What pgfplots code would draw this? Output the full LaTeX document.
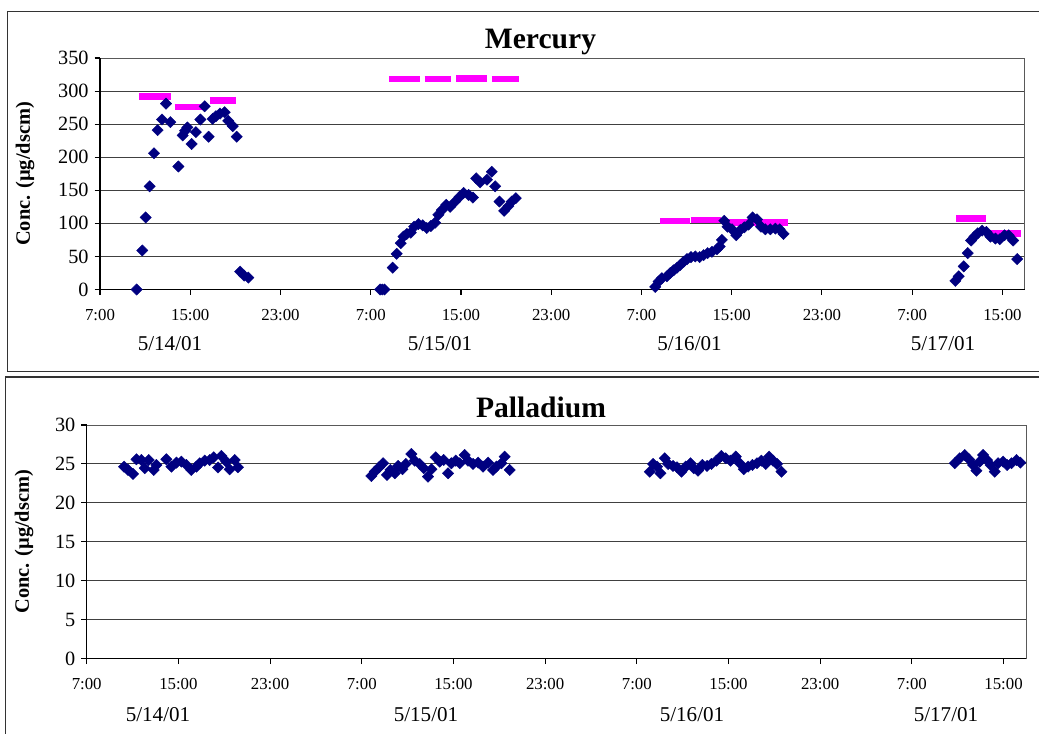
\documentclass[border=0pt]{standalone}
\usepackage{pgfplots}
\pgfplotsset{compat=1.18}
\usepackage{fontspec}
\setmainfont{Liberation Serif}

\definecolor{hgnavy}{HTML}{000080}
\definecolor{limitpink}{HTML}{FF00FF}

% 1 px of the layout grid = 0.75pt
\pgfplotsset{
  excelstyle/.style={
    scale only axis,
    xmin=7, xmax=89,
    axis line style={draw=black!65, line width=0.75pt},
    ymajorgrids, grid style={black!75, line width=0.7pt},
    xtick={7,15,...,87},
    xticklabels={7:00,15:00,23:00,7:00,15:00,23:00,7:00,15:00,23:00,7:00,15:00},
    tick pos=left, tick align=outside,
    major tick length=4pt,
    tick style={black, line width=0.8pt},
    xticklabel style={font=\fontsize{12.6}{14}\selectfont, yshift=-7.5pt},
    yticklabel style={font=\fontsize{15.2}{17}\selectfont, xshift=-1pt},
    /pgf/number format/assume math mode=true,
    clip=false,
  },
  hgmark/.style={only marks, mark=square*, mark size=3.0pt,
    mark options={rotate=45, fill=hgnavy, draw=hgnavy, line width=0.3pt}},
  limitbar/.style={limitpink, line width=4.8pt, no marks, forget plot},
}

\begin{document}
\begin{tikzpicture}
\useasboundingbox (0,0) rectangle (1039*0.75pt,-734*0.75pt);

% chart frames
\draw[black!80, line width=1pt] (1045*0.75pt,-11.5*0.75pt) -- (7.5*0.75pt,-11.5*0.75pt)
  -- (7.5*0.75pt,-371.5*0.75pt) -- (1045*0.75pt,-371.5*0.75pt);
\draw[black!80, line width=1pt] (1045*0.75pt,-377*0.75pt) -- (5.5*0.75pt,-377*0.75pt)
  -- (5.5*0.75pt,-745*0.75pt);

% ---------------- Mercury ----------------
\begin{axis}[excelstyle,
  at={(100*0.75pt,-289.5*0.75pt)}, anchor=south west,
  width=925*0.75pt, height=231.5*0.75pt,
  ymin=0, ymax=350, ytick={0,50,...,350},
]
\addplot[hgmark] coordinates {
 (10.25,0) (10.75,59) (11.05,109) (11.40,156) (11.79,206) (12.11,241)
 (12.50,257) (12.85,281) (13.24,253) (13.95,186) (14.33,233) (14.55,240)
 (14.74,245) (15.12,220) (15.50,238) (15.90,257) (16.28,277) (16.63,231)
 (16.99,258) (17.28,262) (17.64,266) (18.05,268) (18.37,255) (18.77,247)
 (19.12,231) (19.42,27) (19.77,21) (20.15,18)
};
\addplot[hgmark] coordinates {
 (31.83,0) (32.02,0) (32.22,0) (32.95,33) (33.30,54) (33.66,70) (33.90,80)
 (34.20,84) (34.55,86) (34.85,95) (35.23,99) (35.61,97) (35.97,93) (36.33,96)
 (36.71,101) (37.00,113) (37.30,120) (37.69,128) (38.04,125) (38.49,133)
 (38.87,140) (39.23,146) (39.67,143) (40.06,139) (40.35,168) (40.70,162)
 (41.30,166) (41.73,178) (42.03,156) (42.41,133) (42.83,119) (43.20,126)
 (43.50,133) (43.86,138)
};
\addplot[hgmark] coordinates {
 (56.22,4) (56.52,12) (56.81,17) (57.26,20) (57.55,25) (57.85,29) (58.16,33)
 (58.44,37) (58.74,42) (59.04,46) (59.39,49) (59.77,50) (60.16,49) (60.51,52)
 (60.87,55) (61.25,57) (61.70,61) (61.93,65) (62.13,75) (62.34,104) (62.63,95)
 (63.02,91) (63.40,82) (63.76,90) (64.12,94) (64.50,98) (64.85,109) (65.24,106)
 (65.60,95) (65.98,91) (66.42,91) (66.87,92) (67.25,91) (67.60,84)
};
\addplot[hgmark] coordinates {
 (82.83,13) (83.12,20) (83.57,35) (83.92,55) (84.22,74) (84.52,80) (84.81,85)
 (85.20,89) (85.58,87) (85.94,80) (86.38,77) (86.76,76) (87.18,82) (87.56,82)
 (87.95,74) (88.31,46)
};
% limit bars
\addplot[limitbar] coordinates {(10.44,291.5) (13.26,291.5)};
\addplot[limitbar] coordinates {(13.62,275.5) (16.27,275.5)};
\addplot[limitbar] coordinates {(16.74,285.5) (19.10,285.5)};
\addplot[limitbar] coordinates {(32.66,318) (35.38,318)};
\addplot[limitbar] coordinates {(35.77,318) (38.13,318)};
\addplot[limitbar] coordinates {(38.57,319.3) (41.35,319.3)};
\addplot[limitbar] coordinates {(41.73,318) (44.13,318)};
\addplot[limitbar] coordinates {(56.67,104) (59.33,104)};
\addplot[limitbar] coordinates {(59.39,105) (62.05,105)};
\addplot[limitbar] coordinates {(62.50,101) (65.20,101)};
\addplot[limitbar] coordinates {(65.30,101) (67.95,101)};
\addplot[limitbar] coordinates {(82.92,107.6) (85.58,107.6)};
\addplot[limitbar] coordinates {(85.94,84.5) (88.66,84.5)};
\draw[black, line width=1.1pt] (rel axis cs:0,1) -- (rel axis cs:0,0) -- (rel axis cs:1,0);
\end{axis}

% ---------------- Palladium ----------------
\begin{axis}[excelstyle,
  at={(86.7*0.75pt,-658.7*0.75pt)}, anchor=south west,
  width=939.8*0.75pt, height=233.7*0.75pt,
  ymin=0, ymax=30, ytick={0,5,...,30},
]
\addplot[hgmark] coordinates {
 (10.26,24.65) (10.61,24.23) (11.04,23.72) (11.34,25.60) (11.77,25.50)
 (12.06,24.45) (12.41,25.50) (12.85,24.23) (13.08,24.87) (13.95,25.60)
 (14.39,24.65) (14.83,25.17) (15.26,25.30) (15.70,24.87) (16.13,24.23)
 (16.57,24.65) (16.86,25.08) (17.30,25.42) (17.73,25.50) (18.08,25.86)
 (18.46,24.55) (18.75,26.03) (19.18,25.30) (19.47,24.30) (19.91,25.50)
 (20.20,24.57)
};
\addplot[hgmark] coordinates {
 (31.84,23.46) (32.13,24.01) (32.51,24.57) (32.86,25.09) (33.20,23.59)
 (33.50,24.23) (33.88,23.80) (34.17,24.74) (34.55,24.32) (34.84,25.00)
 (35.33,26.28) (35.62,25.42) (36.06,25.00) (36.41,24.45) (36.78,23.37)
 (37.08,24.32) (37.45,25.86) (37.80,25.30) (38.15,25.51) (38.53,23.80)
 (38.82,25.09) (39.20,25.42) (39.55,25.09) (39.98,26.15) (40.27,25.42)
 (40.71,25.00) (41.15,25.17) (41.58,24.66) (42.02,25.17) (42.45,24.23)
 (42.75,24.66) (43.19,25.09) (43.47,25.94) (43.91,24.23)
};
\addplot[hgmark] coordinates {
 (56.13,24.01) (56.42,25.00) (56.77,24.66) (57.06,23.80) (57.44,25.73)
 (57.73,25.00) (58.16,24.74) (58.51,24.57) (58.89,24.01) (59.27,24.66)
 (59.68,25.09) (59.97,24.45) (60.34,24.14) (60.72,24.87) (61.13,24.74)
 (61.51,25.00) (61.95,25.42) (62.38,26.03) (62.76,25.73) (63.17,25.42)
 (63.63,25.94) (63.98,25.09) (64.33,24.32) (64.71,24.66) (65.09,24.87)
 (65.49,25.09) (65.87,25.42) (66.25,25.00) (66.54,25.94) (66.89,25.42)
 (67.24,25.00) (67.62,24.01)
};
\addplot[hgmark] coordinates {
 (82.74,25.09) (83.18,25.73) (83.61,26.15) (83.99,25.60) (84.34,24.87)
 (84.63,24.14) (84.92,25.30) (85.21,26.15) (85.56,25.50) (85.86,24.87)
 (86.23,24.01) (86.52,25.09) (86.96,25.30) (87.31,24.87) (87.69,25.09)
 (88.13,25.50) (88.47,25.17)
};
\draw[black, line width=1.1pt] (rel axis cs:0,1) -- (rel axis cs:0,0) -- (rel axis cs:1,0);
\end{axis}

% titles
\node[anchor=base, font=\fontsize{22.2}{26}\selectfont\bfseries] at (540.5*0.75pt,-48.5*0.75pt) {Mercury};
\node[anchor=base, font=\fontsize{22.2}{26}\selectfont\bfseries] at (541*0.75pt,-417*0.75pt) {Palladium};

% y labels
\node[rotate=90, font=\fontsize{15.3}{18}\selectfont\bfseries] at (25*0.75pt,-174*0.75pt) {Conc. (µg/dscm)};
\node[rotate=90, font=\fontsize{15.3}{18}\selectfont\bfseries] at (24*0.75pt,-541.8*0.75pt) {Conc. (µg/dscm)};

% date labels
\foreach \xx/\dd in {170/5\slash 14\slash 01, 440/5\slash 15\slash 01, 689.5/5\slash 16\slash 01, 943/5\slash 17\slash 01}
  \node[font=\fontsize{15.8}{18}\selectfont] at (\xx*0.75pt,-344*0.75pt) {\dd};
\foreach \xx/\dd in {158/5\slash 14\slash 01, 426/5\slash 15\slash 01, 692/5\slash 16\slash 01, 946/5\slash 17\slash 01}
  \node[font=\fontsize{15.8}{18}\selectfont] at (\xx*0.75pt,-715*0.75pt) {\dd};
\end{tikzpicture}
\end{document}
